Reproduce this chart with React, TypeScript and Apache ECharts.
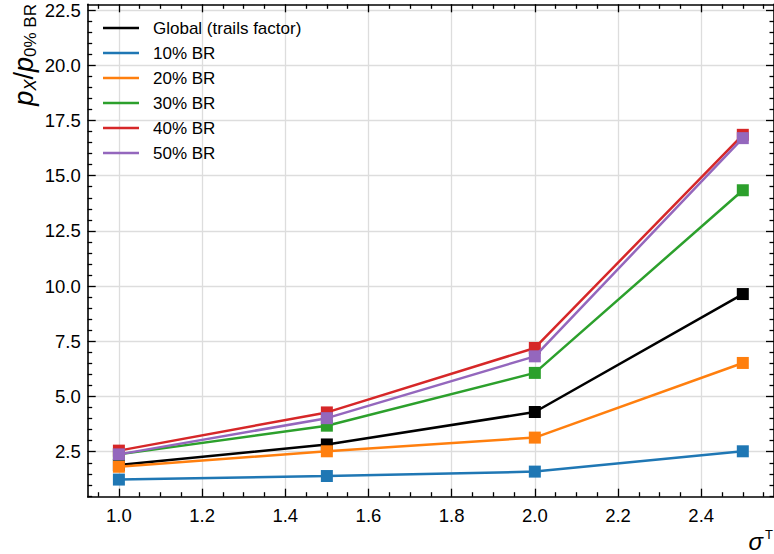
import React, { useEffect, useRef } from "react";
import * as echarts from "echarts";

const xValues = [1.0, 1.5, 2.0, 2.5];
const globalTrails = [1.9, 2.83, 4.3, 9.64];
const br10 = [1.24, 1.4, 1.6, 2.52];
const br20 = [1.82, 2.52, 3.14, 6.52];
const br30 = [2.38, 3.68, 6.07, 14.34];
const br40 = [2.55, 4.28, 7.2, 16.85];
const br50 = [2.38, 4.02, 6.82, 16.7];

const seriesNames = ["Global (trails factor)", "10% BR", "20% BR", "30% BR", "40% BR", "50% BR"];
const seriesColors = ["#000000", "#1f77b4", "#ff7f0e", "#2ca02c", "#d62728", "#9467bd"];
const seriesValues = [globalTrails, br10, br20, br30, br40, br50];

const xMajorTicks = [1.0, 1.2, 1.4, 1.6, 1.8, 2.0, 2.2, 2.4];
const xMinorTicks = [0.95, 1.05, 1.1, 1.15, 1.25, 1.3, 1.35, 1.45, 1.5, 1.55, 1.65, 1.7, 1.75, 1.85, 1.9, 1.95, 2.05, 2.1, 2.15, 2.25, 2.3, 2.35, 2.45, 2.5, 2.55];
const yMajorTicks = [2.5, 5.0, 7.5, 10.0, 12.5, 15.0, 17.5, 20.0, 22.5];
const yMinorTicks = [0.5, 1.0, 1.5, 2.0, 3.0, 3.5, 4.0, 4.5, 5.5, 6.0, 6.5, 7.0, 8.0, 8.5, 9.0, 9.5, 10.5, 11.0, 11.5, 12.0, 13.0, 13.5, 14.0, 14.5, 15.5, 16.0, 16.5, 17.0, 18.0, 18.5, 19.0, 19.5, 20.5, 21.0, 21.5, 22.0];

const X_MIN = 0.925;
const X_MAX = 2.575;
const Y_MIN = 0.464;
const Y_MAX = 22.76;

const FONT = "Liberation Sans";

export default function App() {
  const ref = useRef<HTMLDivElement>(null);

  useEffect(() => {
    if (!ref.current) return;
    const chart = echarts.init(ref.current, undefined, { renderer: "svg" });

    const spine = { show: true, onZero: false, lineStyle: { color: "#000", width: 1.6 } };
    const gridLine = { show: true, lineStyle: { color: "#dddddd", width: 1.3 } };

    const mkX = (position: string, ticks: number[], len: number, opts: any) => ({
      type: "value",
      position,
      min: X_MIN,
      max: X_MAX,
      gridIndex: 0,
      axisLine: opts.line ? spine : { show: false },
      axisTick: { show: true, inside: true, length: len, customValues: ticks, lineStyle: { color: "#000", width: 1.3 } },
      axisLabel: opts.label
        ? {
            show: true,
            customValues: xMajorTicks,
            formatter: (v: number) => v.toFixed(1),
            fontSize: 18.5,
            fontFamily: FONT,
            color: "#000",
            margin: 9,
          }
        : { show: false },
      splitLine: opts.split ? { ...gridLine } : { show: false },
    });
    const mkY = (position: string, ticks: number[], len: number, opts: any) => ({
      type: "value",
      position,
      min: Y_MIN,
      max: Y_MAX,
      gridIndex: 0,
      axisLine: opts.line ? spine : { show: false },
      axisTick: { show: true, inside: true, length: len, customValues: ticks, lineStyle: { color: "#000", width: 1.3 } },
      axisLabel: opts.label
        ? {
            show: true,
            customValues: yMajorTicks,
            formatter: (v: number) => v.toFixed(1),
            fontSize: 18.5,
            fontFamily: FONT,
            color: "#000",
            margin: 7,
          }
        : { show: false },
      splitLine: opts.split ? { ...gridLine } : { show: false },
    });

    const option: any = {
      animation: false,
      backgroundColor: "#ffffff",
      grid: { left: 87.7, top: 4.3, right: -1.4, bottom: 57.3, containLabel: false },
      xAxis: [
        mkX("bottom", xMajorTicks, 8, { line: true, label: true, split: true }),
        mkX("bottom", xMinorTicks, 4.5, {}),
        mkX("top", xMajorTicks, 8, { line: true }),
        mkX("top", xMinorTicks, 4.5, {}),
      ],
      yAxis: [
        mkY("left", yMajorTicks, 8, { line: true, label: true, split: true }),
        mkY("left", yMinorTicks, 4.5, {}),
        mkY("right", yMajorTicks, 8, { line: true }),
        mkY("right", yMinorTicks, 4.5, {}),
      ],
      legend: {
        orient: "vertical",
        left: 103,
        top: 19.5,
        padding: 0,
        itemGap: 8,
        itemWidth: 36,
        itemHeight: 2.6,
        icon: "rect",
        data: seriesNames,
        textStyle: { fontSize: 17, fontFamily: FONT, color: "#000", lineHeight: 15, padding: [0, 0, 0, 9] },
      },
      series: seriesNames.map((name, i) => ({
        name,
        type: "line",
        xAxisIndex: 0,
        yAxisIndex: 0,
        data: xValues.map((x, j) => [x, seriesValues[i][j]]),
        symbol: "rect",
        symbolSize: 12,
        showSymbol: true,
        lineStyle: { width: 2.5, color: seriesColors[i] },
        itemStyle: { color: seriesColors[i] },
        color: seriesColors[i],
        z: 2 + i,
        emphasis: { disabled: true },
      })),
      graphic: [
        {
          type: "text",
          x: 24,
          y: 4,
          rotation: Math.PI / 2,
          style: {
            text: "{i|p}{si|X}{n|/}{i|p}{s|0% BR}",
            align: "right",
            verticalAlign: "middle",
            fill: "#000",
            rich: {
              i: { fontSize: 27, fontStyle: "italic", fontFamily: FONT, fill: "#000" },
              n: { fontSize: 27, fontFamily: FONT, fill: "#000" },
              si: { fontSize: 17, fontStyle: "italic", fontFamily: FONT, fill: "#000", padding: [12, 0, 0, 0] },
              s: { fontSize: 17, fontFamily: FONT, fill: "#000", padding: [12, 0, 0, 0] },
            },
          },
        },
        {
          type: "text",
          x: 773,
          y: 541,
          style: {
            text: "{i|σ}{s|T}",
            align: "right",
            verticalAlign: "middle",
            fill: "#000",
            rich: {
              i: { fontSize: 24, fontStyle: "italic", fontFamily: FONT, fill: "#000" },
              s: { fontSize: 13, fontFamily: FONT, fill: "#000", padding: [0, 0, 14, 2] },
            },
          },
        },
      ],
    };

    chart.setOption(option);
    return () => chart.dispose();
  }, []);

  return <div ref={ref} style={{ position: "fixed", left: 0, top: 0, width: 774, height: 554 }} />;
}
